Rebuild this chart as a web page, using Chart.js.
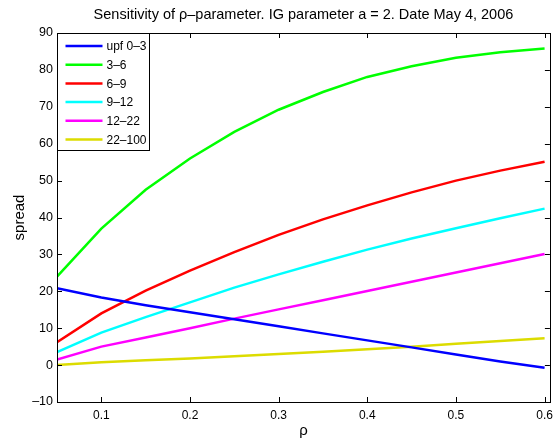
<!DOCTYPE html>
<html>
<head>
<meta charset="utf-8">
<script src="https://cdn.jsdelivr.net/npm/chart.js@4.4.1/dist/chart.umd.min.js"></script>
<style>
  html, body { margin: 0; padding: 0; background: #fff; }
  canvas { display: block; }
</style>
</head>
<body>
<canvas id="rhoChart" width="559" height="440"></canvas>
<script>
// rho values along the x axis
const rho = [0.05, 0.1, 0.15, 0.2, 0.25, 0.3, 0.35, 0.4, 0.45, 0.5, 0.55, 0.6];

// spread per rating bucket
const upf0_3   = [20.8, 18.3, 16.2, 14.3, 12.4, 10.5, 8.6, 6.7, 4.8, 2.9, 1.0, -0.7];
const b3_6     = [24.0, 37.0, 47.5, 56.0, 63.2, 69.2, 74.0, 78.1, 81.0, 83.3, 84.8, 85.8];
const b6_9     = [6.2, 14.0, 20.2, 25.6, 30.6, 35.3, 39.5, 43.3, 46.8, 50.0, 52.7, 55.1];
const b9_12    = [3.5, 8.8, 13.0, 17.0, 21.0, 24.6, 28.0, 31.3, 34.3, 37.1, 39.8, 42.4];
const b12_22   = [1.5, 5.0, 7.5, 10.0, 12.6, 15.1, 17.6, 20.1, 22.6, 25.1, 27.6, 30.1];
const b22_100  = [0.0, 0.8, 1.3, 1.8, 2.4, 3.0, 3.6, 4.3, 5.0, 5.8, 6.5, 7.25];

const seriesLabels = ['upf 0\u20133', '3\u20136', '6\u20139', '9\u201312', '12\u201322', '22\u2013100'];
const seriesColors = ['#0000ff', '#00ff00', '#ff0000', '#00ffff', '#ff00ff', '#dcdc00'];

const xTicks = [0.1, 0.2, 0.3, 0.4, 0.5, 0.6];
const yTicks = [-10, 0, 10, 20, 30, 40, 50, 60, 70, 80, 90];

const FONT = '"Liberation Sans", Arial, Helvetica, sans-serif';

function toPoints(values) {
    return values.map((v, i) => ({ x: rho[i], y: v }));
}

const allSeries = [upf0_3, b3_6, b6_9, b9_12, b12_22, b22_100];

// MATLAB-ish frame: box, inward ticks, title and legend in the corner
const matlabFrame = {
    id: 'matlabFrame',
    afterDatasetsDraw(chart) {
        const ctx = chart.ctx;
        const area = chart.chartArea;
        const xs = chart.scales.x;
        const ys = chart.scales.y;
        const tl = 5;

        ctx.save();
        ctx.strokeStyle = '#000';
        ctx.lineWidth = 1;
        ctx.beginPath();
        xTicks.forEach(v => {
            const px = Math.round(xs.getPixelForValue(v)) + 0.5;
            ctx.moveTo(px, area.bottom); ctx.lineTo(px, area.bottom - tl);
            ctx.moveTo(px, area.top); ctx.lineTo(px, area.top + tl);
        });
        yTicks.forEach(v => {
            const py = Math.round(ys.getPixelForValue(v)) + 0.5;
            ctx.moveTo(area.left, py); ctx.lineTo(area.left + tl, py);
            ctx.moveTo(area.right, py); ctx.lineTo(area.right - tl, py);
        });
        ctx.stroke();
        ctx.strokeRect(Math.round(area.left) + 0.5, Math.round(area.top) + 0.5,
                       Math.round(area.right - area.left), Math.round(area.bottom - area.top));

        // legend box
        const lx = Math.round(area.left) + 0.5;
        const ly = Math.round(area.top) + 0.5;
        const lw = 92, lh = 117;
        ctx.fillStyle = '#fff';
        ctx.fillRect(lx, ly, lw, lh);
        ctx.strokeRect(lx, ly, lw, lh);
        ctx.font = '12px ' + FONT;
        ctx.textBaseline = 'middle';
        ctx.textAlign = 'left';
        chart.data.datasets.forEach((ds, i) => {
            const yy = ly + 12.5 + i * 18.7;
            ctx.strokeStyle = ds.borderColor;
            ctx.lineWidth = 2.5;
            ctx.beginPath();
            ctx.moveTo(lx + 8, yy);
            ctx.lineTo(lx + 45, yy);
            ctx.stroke();
            ctx.fillStyle = '#000';
            ctx.fillText(ds.label, lx + 49, yy + 1);
        });

        // title
        ctx.fillStyle = '#000';
        ctx.font = '14.5px ' + FONT;
        ctx.textAlign = 'center';
        ctx.textBaseline = 'middle';
        ctx.fillText('Sensitivity of \u03c1\u2013parameter. IG parameter a = 2. Date May 4, 2006',
                     (area.left + area.right) / 2, 15);
        ctx.restore();
    }
};

new Chart(document.getElementById('rhoChart').getContext('2d'), {
    type: 'line',
    data: {
        datasets: allSeries.map((vals, i) => ({
            label: seriesLabels[i],
            data: toPoints(vals),
            borderColor: seriesColors[i],
            backgroundColor: seriesColors[i],
            borderWidth: 2.5,
            pointRadius: 0,
            tension: 0,
            fill: false
        }))
    },
    options: {
        responsive: false,
        animation: false,
        layout: { padding: { top: 33, right: 7, left: 0, bottom: 0 } },
        scales: {
            x: {
                type: 'linear',
                min: 0.05,
                max: 0.606,
                afterBuildTicks: scale => { scale.ticks = xTicks.map(v => ({ value: v })); },
                afterFit: scale => { scale.height = 38; },
                grid: { display: false, drawTicks: false },
                border: { display: true, color: '#000' },
                ticks: {
                    color: '#000',
                    padding: 6,
                    maxRotation: 0,
                    font: { family: FONT, size: 12 },
                    callback: v => String(v)
                },
                title: {
                    display: true,
                    text: '\u03c1',
                    color: '#000',
                    font: { family: FONT, size: 15 },
                    padding: { top: 0, bottom: 0 }
                }
            },
            y: {
                min: -10,
                max: 90,
                afterBuildTicks: scale => { scale.ticks = yTicks.map(v => ({ value: v })); },
                afterFit: scale => { scale.width = 57; },
                grid: { display: false, drawTicks: false },
                border: { display: true, color: '#000' },
                ticks: {
                    color: '#000',
                    padding: 4,
                    font: { family: FONT, size: 12.5 },
                    callback: v => v < 0 ? '\u2013' + Math.abs(v) : String(v)
                },
                title: {
                    display: true,
                    text: 'spread',
                    color: '#000',
                    font: { family: FONT, size: 15 },
                    padding: { top: 11, bottom: 0 }
                }
            }
        },
        plugins: {
            legend: { display: false },
            tooltip: { enabled: false }
        }
    },
    plugins: [matlabFrame]
});
</script>
</body>
</html>
